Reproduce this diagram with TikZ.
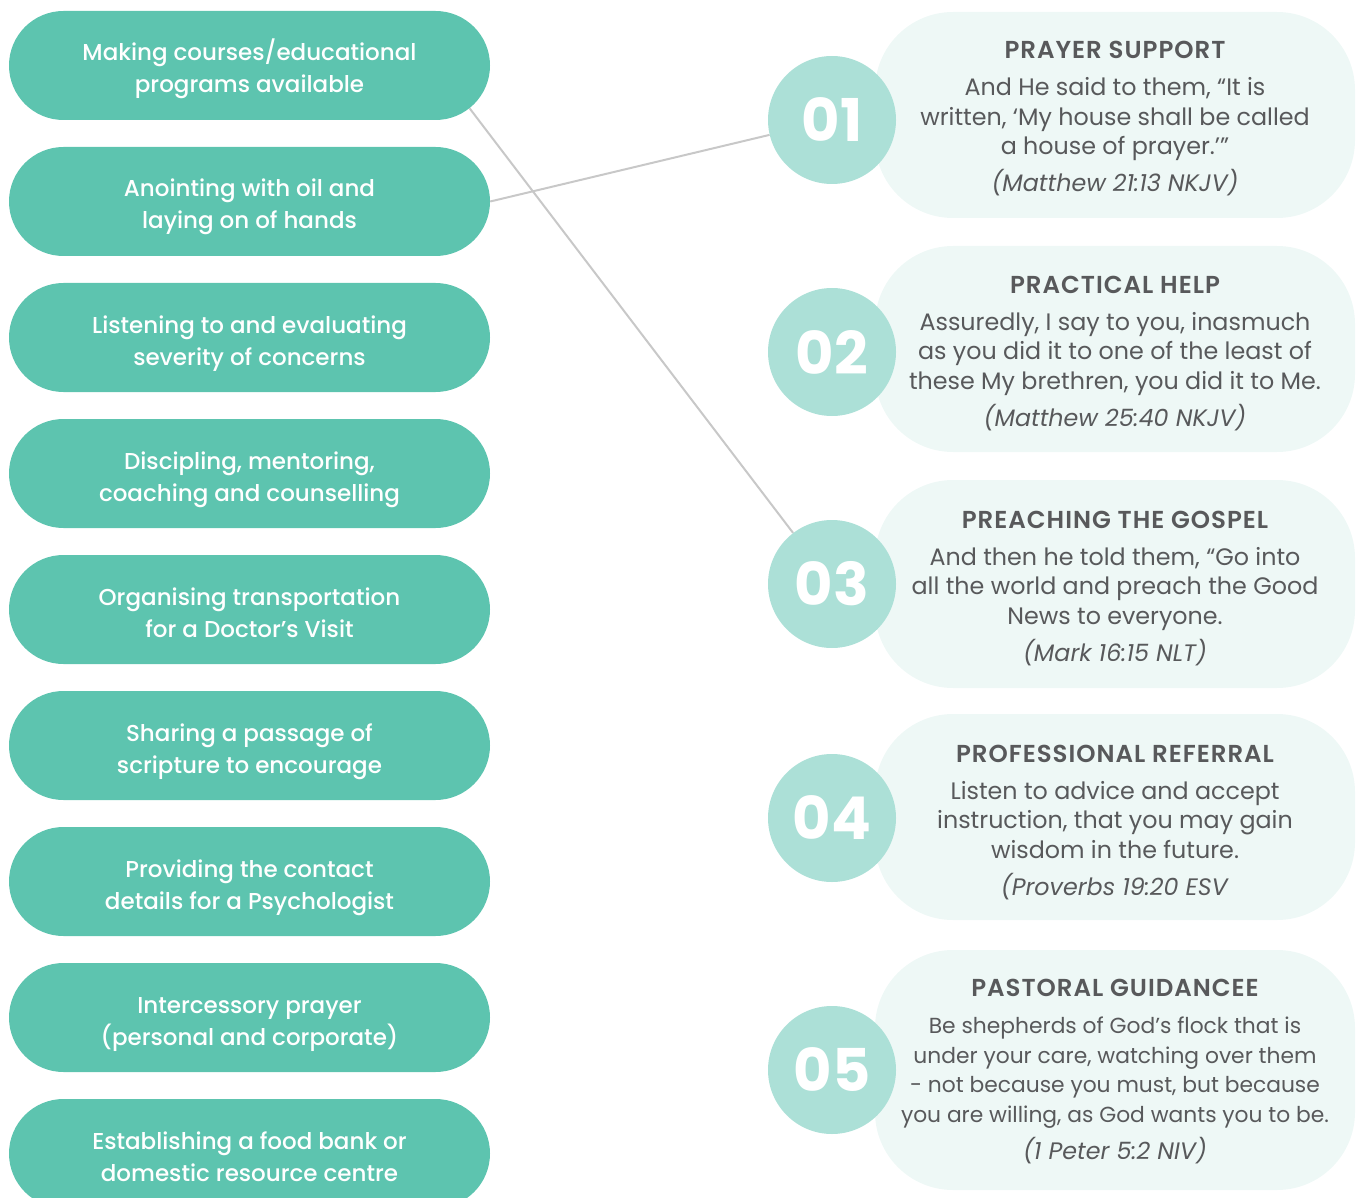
\documentclass[tikz,border=0pt]{standalone}
\usepackage{fontspec}
\usetikzlibrary{shapes.misc,backgrounds}
\setmainfont{Poppins}
\IfFontExistsTF{Poppins Medium}
  {\newfontfamily\pillfont{Poppins Medium}}
  {\newfontfamily\pillfont{Poppins}[FakeBold=1]}
\IfFontExistsTF{Poppins SemiBold}
  {\newfontfamily\headfont{Poppins SemiBold}[LetterSpace=4]}
  {\newfontfamily\headfont{Poppins}[UprightFont=* Bold,LetterSpace=4]}
\newfontfamily\numfont{Poppins}[UprightFont=* Bold]

\definecolor{pillc}{HTML}{5DC4AF}
\definecolor{numcol}{HTML}{ACE0D7}
\definecolor{cardc}{HTML}{EEF8F6}
\definecolor{txt}{HTML}{58595B}
\definecolor{linec}{HTML}{C8C8C8}

\newcommand{\cardhead}[1]{{\headfont\fontsize{24.5}{29.5}\selectfont #1}}
\newcommand{\smallverse}{\fontsize{21.8}{29.5}\selectfont}

\begin{document}
\begin{tikzpicture}[x=1pt,y=-1pt,
  pill/.style={rounded rectangle, fill=pillc, minimum width=481pt,
    minimum height=109pt, inner sep=0pt, text=white, align=center,
    text height=55pt, text depth=0pt,
    font=\pillfont\fontsize{23}{32}\selectfont},
  numc/.style={circle, fill=numcol, minimum size=128pt, inner sep=0pt,
    text=white, font=\numfont\fontsize{59}{59}\selectfont},
  card/.style={rectangle, rounded corners=78pt, fill=cardc,
    minimum width=480pt, inner sep=0pt, text=txt, align=center,
    text depth=0pt, text height=154pt,
    font=\fontsize{23.8}{29.5}\selectfont},
  link/.style={draw=linec, line width=2pt}]

\path[use as bounding box] (0,0) rectangle (1360,1198);
\clip (0,0) rectangle (1360,1198);

% services offered
\node[pill] (p1) at (249.5,65.5)  {Making courses/educational\\programs available};
\node[pill] (p2) at (249.5,201.5) {Anointing with oil and\\laying on of hands};
\node[pill] (p3) at (249.5,337.5) {Listening to and evaluating\\severity of concerns};
\node[pill] (p4) at (249.5,473.5) {Discipling, mentoring,\\coaching and counselling};
\node[pill] (p5) at (249.5,609.5) {Organising transportation\\for a Doctor’s Visit};
\node[pill] (p6) at (249.5,745.5) {Sharing a passage of\\scripture to encourage};
\node[pill] (p7) at (249.5,881.5) {Providing the contact\\details for a Psychologist};
\node[pill] (p8) at (249.5,1017.5) {Intercessory prayer\\(personal and corporate)};
\node[pill] (p9) at (249.5,1153.5) {Establishing a food bank or\\domestic resource centre};

% ministry areas with scripture
\node[card, minimum height=206pt] (c1) at (1115,115)
  {\cardhead{PRAYER SUPPORT}\\[7.5pt]
   And He said to them, “It is\\
   written, ‘My house shall be called\\
   a house of prayer.’”\\[7.5pt]
   \textit{(Matthew 21:13 NKJV)}};
\node[card, minimum height=206pt] (c2) at (1115,349)
  {\cardhead{PRACTICAL HELP}\\[7.5pt]
   Assuredly, I say to you, inasmuch\\
   as you did it to one of the least of\\
   these My brethren, you did it to Me.\\[7.5pt]
   \textit{(Matthew 25:40 NKJV)}};
\node[card, minimum height=208pt] (c3) at (1115,584)
  {\cardhead{PREACHING THE GOSPEL}\\[7.5pt]
   And then he told them, “Go into\\
   all the world and preach the Good\\
   News to everyone.\\[7.5pt]
   \textit{(Mark 16:15 NLT)}};
\node[card, minimum height=206pt, text height=156pt] (c4) at (1115,817)
  {\cardhead{PROFESSIONAL REFERRAL}\\[7.5pt]
   Listen to advice and accept\\
   instruction, that you may gain\\
   wisdom in the future.\\[7.5pt]
   \textit{(Proverbs 19:20 ESV}};
\node[card, minimum height=240pt, text height=178pt] (c5) at (1115,1070)
  {\cardhead{PASTORAL GUIDANCEE}\\[7.5pt]
   \smallverse Be shepherds of God’s flock that is\\
   \smallverse under your care, watching over them\\
   \smallverse - not because you must, but because\\
   \smallverse you are willing, as God wants you to be.\\[7.5pt]
   \textit{(1 Peter 5:2 NIV)}};

\node[numc] (n1) at (832,120)  {01};
\node[numc] (n2) at (832,352)  {02};
\node[numc] (n3) at (832,584)  {03};
\node[numc] (n4) at (832,818)  {04};
\node[numc] (n5) at (832,1070) {05};

% connectors
\begin{scope}[on background layer]
  \draw[link] (p2.east) -- (n1);
  \draw[link] (p1.-11) -- (n3);
\end{scope}
\end{tikzpicture}
\end{document}
